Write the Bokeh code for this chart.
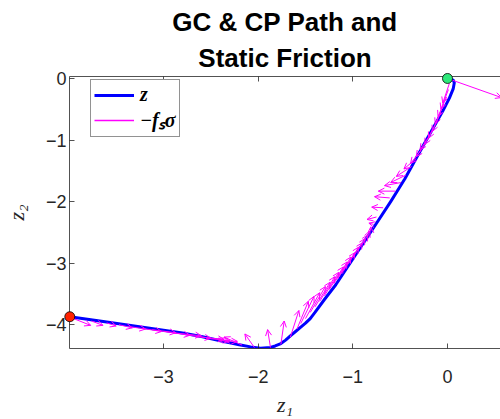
from bokeh.plotting import figure
from bokeh.models import (ColumnDataSource, Arrow, OpenHead, Legend, LegendItem,
                          LinearAxis, Title, FixedTicker, Range1d)
from bokeh.embed import file_html
from bokeh.resources import INLINE

# ---- data -------------------------------------------------------------
# GC path z = (z1, z2)
z1 = [-3.99, -3.6, -3.2, -3.0, -2.8, -2.6, -2.4, -2.2, -2.08, -1.975, -1.87,
      -1.82, -1.76, -1.71, -1.66, -1.605, -1.55, -1.50, -1.45, -1.40, -1.30,
      -1.18, -1.0, -0.8, -0.6, -0.45, -0.3, -0.15, -0.05, 0.02, 0.06, 0.072,
      0.06, 0.03, 0.0]
z2 = [-3.87, -3.955, -4.045, -4.09, -4.135, -4.19, -4.26, -4.325, -4.36, -4.38,
      -4.37, -4.345, -4.305, -4.25, -4.18, -4.11, -4.04, -3.975, -3.90, -3.80,
      -3.59, -3.35, -2.93, -2.47, -2.0, -1.63, -1.21, -0.80, -0.53, -0.32,
      -0.17, -0.07, -0.025, -0.005, 0.0]

# CP positions (arrow tails)
cp1 = [-3.95, -3.76, -3.60, -3.47, -3.36, -3.22, -3.12, -3.00, -2.90, -2.78,
       -2.66, -2.55, -2.42,
       -2.30, -2.17, -2.04,
       -1.87, -1.76, -1.66, -1.59,
       -1.55, -1.50, -1.45, -1.40, -1.35, -1.30, -1.25, -1.20, -1.15, -1.10,
       -1.05, -1.00, -0.95, -0.90, -0.85, -0.81,
       -0.78, -0.75, -0.68, -0.61, -0.55, -0.49, -0.44, -0.38, -0.33, -0.28,
       -0.23, -0.19, -0.15, -0.11, -0.07, -0.04, -0.01, 0.01, 0.02,
       0.0]
cp2 = [-3.90, -3.94, -3.97, -4.00, -4.03, -4.06, -4.08, -4.11, -4.13, -4.16,
       -4.19, -4.22, -4.26,
       -4.30, -4.33, -4.37,
       -4.37, -4.32, -4.20, -4.07,
       -3.98, -3.90, -3.80, -3.71, -3.62, -3.53, -3.43, -3.33, -3.23, -3.13,
       -3.02, -2.91, -2.80, -2.69, -2.58, -2.48,
       -2.37, -2.25, -2.10, -1.94, -1.83, -1.69, -1.57, -1.43, -1.30, -1.17,
       -1.05, -0.93, -0.81, -0.68, -0.55, -0.42, -0.30, -0.18, -0.08,
       0.0]

# static friction  -f_s * sigma  (components)
fs1 = [0.18, 0.12, 0.10, 0.14, 0.17, 0.20, 0.25, 0.28, 0.30, 0.28,
       0.30, 0.25, 0.20,
       -0.12, -0.19, -0.10,
       -0.03, 0.035, 0.09, 0.12,
       0.14, 0.15, 0.16, 0.16, 0.16, 0.15, 0.15, 0.14, 0.13, 0.12,
       0.11, 0.10, 0.08, 0.06, 0.03, 0.0,
       -0.05, -0.10, -0.12, -0.16, -0.18, -0.175, -0.16, -0.16, -0.13, -0.11,
       -0.10, -0.10, -0.09, -0.09, -0.09, -0.09, -0.09, -0.08, -0.07,
       0.57]
fs2 = [-0.11, -0.07, -0.05, -0.05, -0.04, -0.05, -0.05, -0.06, -0.05, -0.06,
       -0.05, -0.04, -0.01,
       0.08, 0.13, 0.22,
       0.29, 0.38, 0.43, 0.45,
       0.44, 0.42, 0.42, 0.40, 0.40, 0.38, 0.37, 0.35, 0.33, 0.30,
       0.28, 0.24, 0.20, 0.15, 0.10, 0.07,
       0.02, -0.04, 0.01, 0.02, 0.0, -0.05, -0.12, -0.16, -0.17, -0.21,
       -0.22, -0.23, -0.26, -0.29, -0.31, -0.32, -0.32, -0.32, -0.32,
       -0.31]

start_z1 = [-3.99]
start_z2 = [-3.87]
end_z1 = [0.0]
end_z2 = [0.0]

x_ticks = [-3, -2, -1, 0]
x_tick_labels = ["\u22123", "\u22122", "\u22121", "0"]
y_ticks = [-4, -3, -2, -1, 0]
y_tick_labels = ["\u22124", "\u22123", "\u22122", "\u22121", "0"]

title_line1 = "GC & CP Path and"
title_line2 = "Static Friction"

# ---- figure -----------------------------------------------------------
AX = "#262626"
MAG = "#ff00ff"
p = figure(width=500, height=419, title=None,
           x_range=Range1d(-3.993, 0.56), y_range=Range1d(-4.386, 0.032),
           output_backend="svg", toolbar_location=None,
           min_border_left=69, min_border_right=0,
           min_border_top=76, min_border_bottom=68)
p.xgrid.visible = False
p.ygrid.visible = False
p.outline_line_color = None
p.background_fill_color = "white"
p.border_fill_color = "white"

for ax in (p.xaxis[0], p.yaxis[0]):
    ax.axis_line_color = AX
    ax.axis_line_width = 0.8
    ax.major_tick_line_color = AX
    ax.major_tick_line_width = 0.8
    ax.major_tick_in = 5
    ax.major_tick_out = 0
    ax.minor_tick_line_color = None
    ax.major_label_text_font = "Liberation Sans"
    ax.major_label_text_font_size = "18px"
    ax.major_label_text_color = AX
    ax.axis_label_text_font = "Liberation Serif"
    ax.axis_label_text_font_style = "italic"
    ax.axis_label_text_font_size = "22px"
    ax.axis_label_text_color = AX

p.xaxis.ticker = FixedTicker(ticks=x_ticks)
p.xaxis.major_label_overrides = dict(zip(x_ticks, x_tick_labels))
p.yaxis.ticker = FixedTicker(ticks=y_ticks)
p.yaxis.major_label_overrides = dict(zip(y_ticks, y_tick_labels))
p.xaxis.axis_label = "z\u2081"
p.yaxis.axis_label = "z\u2082"
p.xaxis.major_label_standoff = 21
p.xaxis.axis_label_standoff = 6
p.yaxis.major_label_standoff = 3
p.yaxis.axis_label_standoff = 14

top = LinearAxis(ticker=FixedTicker(ticks=x_ticks), major_label_text_font_size="1px",
                 major_label_text_color=None, major_label_standoff=8,
                 major_tick_in=5, major_tick_out=0,
                 minor_tick_line_color=None, axis_line_color=AX, axis_line_width=0.8,
                 major_tick_line_color=AX, major_tick_line_width=0.8)
p.add_layout(top, "above")
p.add_layout(Title(text=title_line2, align="center", text_font="Liberation Sans",
                   text_font_size="26px", text_font_style="bold", text_color="black",
                   standoff=8), "above")
p.add_layout(Title(text=title_line1, align="center", text_font="Liberation Sans",
                   text_font_size="26px", text_font_style="bold", text_color="black",
                   standoff=0), "above")

# GC path
r_z = p.line(z1, z2, line_color="#0000ff", line_width=3, line_join="round")

# static friction arrows: shafts as a glyph, heads as annotation
x_tip = [a + b for a, b in zip(cp1, fs1)]
y_tip = [a + b for a, b in zip(cp2, fs2)]
src = ColumnDataSource(dict(x0=cp1, y0=cp2, x1=x_tip, y1=y_tip))
p.segment(x0="x0", y0="y0", x1="x1", y1="y1", source=src,
          line_color=MAG, line_width=1)
heads = Arrow(source=src, x_start="x0", y_start="y0", x_end="x1", y_end="y1",
              line_alpha=0.0,
              end=OpenHead(size=6, line_color=MAG, line_width=1))
p.add_layout(heads)

# legend stand-in for the arrows (draws nothing in the plot area)
nan = float("nan")
r_fs = p.line([nan], [nan], line_color=MAG, line_width=1.5)

# start / end markers
p.scatter(start_z1, start_z2, size=10, fill_color="#ff2200", line_color="black",
          line_width=0.8, level="overlay")
p.scatter(end_z1, end_z2, size=10, fill_color="#2ee87a", line_color="black",
          line_width=0.8, level="overlay")

legend = Legend(items=[LegendItem(label="z", renderers=[r_z]),
                       LegendItem(label="\u2212f\u209b\u03c3", renderers=[r_fs])],
                location=(21, 211))
legend.label_text_font = "Liberation Serif"
legend.label_text_font_style = "bold italic"
legend.label_text_font_size = "20px"
legend.label_text_color = "black"
legend.glyph_width = 40
legend.glyph_height = 20
legend.label_height = 20
legend.label_standoff = 6
legend.padding = 3
legend.spacing = 0
legend.margin = 0
legend.border_line_color = AX
legend.border_line_width = 0.8
legend.background_fill_alpha = 1.0
p.add_layout(legend)

open("out.html", "w").write(file_html(p, INLINE))
